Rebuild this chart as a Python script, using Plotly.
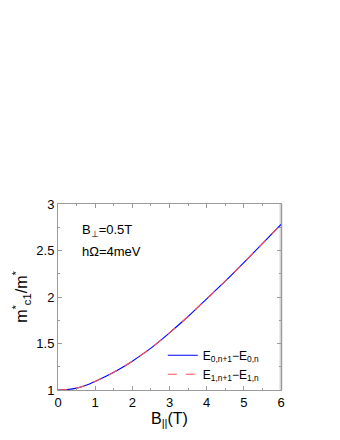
import plotly.graph_objects as go

# parallel field [T]
b_par = [0.0, 0.25, 0.5, 0.75, 1.0, 1.25, 1.5, 1.75, 2.0, 2.5, 3.0, 3.5, 4.0, 4.5, 5.0, 5.5, 6.0]
# m*_c1 / m* from E(0,n+1) - E(0,n)
ratio_0 = [1.0, 1.005, 1.02, 1.05, 1.092, 1.139, 1.19, 1.247, 1.31, 1.45, 1.615, 1.79, 1.98, 2.17, 2.37, 2.575, 2.78]
# same from E(1,n+1) - E(1,n)
ratio_1 = [1.0, 1.005, 1.02, 1.05, 1.092, 1.139, 1.19, 1.247, 1.31, 1.45, 1.615, 1.79, 1.98, 2.17, 2.37, 2.575, 2.78]

font = "Liberation Sans, Arial, sans-serif"
frame = "#9a9a9a"

fig = go.Figure()
fig.add_trace(go.Scatter(x=b_par, y=ratio_0, mode="lines",
                         line=dict(color="blue", width=1.1, shape="spline", smoothing=0.7),
                         name="E<sub>0,n+1</sub>\u2212E<sub>0,n</sub>"))
fig.add_trace(go.Scatter(x=b_par, y=ratio_1, mode="lines",
                         line=dict(color="#ff5050", width=1.1, dash="dash", shape="spline", smoothing=0.7),
                         name="E<sub>1,n+1</sub>\u2212E<sub>1,n</sub>"))

axis_style = dict(showgrid=False, zeroline=False, showline=True, linecolor=frame,
                  linewidth=1, mirror="ticks", ticks="inside", ticklen=4, automargin=False,
                  tickcolor=frame, tickfont=dict(size=13, color="black", family=font))

fig.update_layout(
    width=340, height=440,
    margin=dict(l=50, r=67, t=196, b=58),
    paper_bgcolor="white", plot_bgcolor="white",
    font=dict(family=font, size=13, color="black"),
    xaxis=dict(range=[0, 6], dtick=1, title=dict(text="B<sub>||</sub>(T)", standoff=2),
               minor=dict(ticks="inside", ticklen=2, dtick=0.5, tickcolor=frame),
               **axis_style),
    yaxis=dict(range=[1, 3], dtick=0.5, title=dict(text="m<sup>*</sup><sub>c1</sub>/m<sup>*</sup>", standoff=4),
               minor=dict(ticks="inside", ticklen=2, dtick=0.25, tickcolor=frame),
               **axis_style),
    legend=dict(x=0.47, y=0.265, xanchor="left", yanchor="top", bgcolor="rgba(0,0,0,0)",
                font=dict(size=12), tracegroupgap=0),
    showlegend=True,
)

# thicker light right border as in the original frame
fig.add_shape(type="line", xref="paper", yref="paper", x0=1, x1=1, y0=0, y1=1,
              layer="below", line=dict(color="#d4d4d4", width=3))

fig.add_annotation(x=0.1, y=0.915, xref="paper", yref="paper", showarrow=False,
                   xanchor="left", text="B<sub>\u22a5</sub>=0.5T", font=dict(size=13))
fig.add_annotation(x=0.1, y=0.795, xref="paper", yref="paper", showarrow=False,
                   xanchor="left", text="h\u03a9=4meV", font=dict(size=13))

fig.write_html("out.html")
